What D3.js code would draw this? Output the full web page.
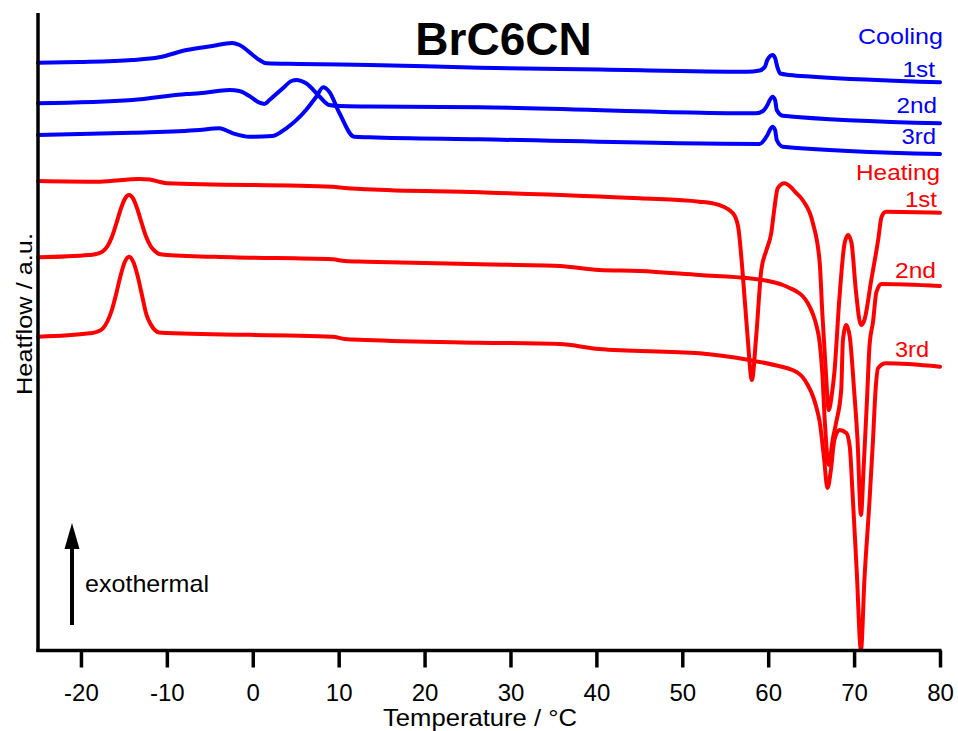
<!DOCTYPE html>
<html><head><meta charset="utf-8">
<script src="https://cdn.jsdelivr.net/npm/d3@7"></script>
<style>body{margin:0;background:#fff}svg{display:block}text{font-family:"Liberation Sans",Arial,sans-serif}</style>
</head><body><svg id="c" width="958" height="731"></svg>
<script>
// x ticks
const xTicks = [-20,-10,0,10,20,30,40,50,60,70,80];
// series: [temperature °C, heatflow a.u.]
const cooling1 = [[-25,587.3],[-20.2,588],[-14,590],[-10.9,592.7],[-7.7,600],[-4.7,604],[-2.4,607],[-1.55,605],[0,595],[0.78,590],[1.6,586.7],[5.4,586],[13.6,585],[26.4,582.3],[40.4,580.5],[57.5,578.3],[59,579.5],[59.6,583],[59.9,590],[60.5,595],[60.8,592],[61.1,582],[61.4,576.5],[62.5,575],[65.2,573.3],[80,567.7]];
const cooling2 = [[-25,546.7],[-14,550],[-7.7,556],[-6.2,556.7],[-2.7,560],[-1.55,559],[-0.4,554],[0.78,547.3],[1.36,546],[1.94,550],[3.5,561.7],[4.5,569],[5.1,570],[6.2,566.7],[7.8,553.3],[8.9,545],[10.1,544],[13.6,543.5],[26.4,542.7],[58.6,536.7],[59.4,539],[59.8,543.3],[60.5,553.3],[60.8,550],[61,540],[61.7,534.3],[80,526.7]];
const cooling3 = [[-25,515],[-14,517.3],[-6.2,520],[-3.9,521.7],[-2.3,516.7],[-0.4,513.3],[2.3,514],[3.9,521.7],[6.2,540],[7.4,553.3],[8.2,562.7],[8.9,558.3],[10.1,536.7],[11.8,513.3],[13.6,512.7],[26.4,510.7],[59,506],[59.8,513.3],[60.5,523.3],[60.8,520],[61,510],[61.7,503.3],[80,496]];
const heating1 = [[-25,469],[-17.8,468.3],[-13.2,471],[-12,470.5],[-10.9,468.3],[-10,466.7],[9.3,463.3],[10.7,462],[13.2,460.7],[26.4,457.7],[45,451.7],[52,448.3],[54.3,445],[55.9,436.7],[56.5,423.3],[57,380],[57.6,313.3],[58.1,270],[58.6,313.3],[59.2,380],[59.8,400],[60.35,416.7],[60.7,440],[61.1,461.7],[61.9,466.7],[63.3,456.7],[64,450],[65.2,427],[66,387],[66.3,337],[66.7,280],[67.05,240],[67.4,255],[67.7,277],[68.3,353],[68.9,407],[69.3,415],[69.7,407],[70.2,360],[70.8,325],[71.2,330],[72,370],[72.8,410],[73.2,433.3],[73.7,438.3],[80,437.3]];
const heating2 = [[-25,392.7],[-19,395],[-18.2,396],[-17.4,399],[-16.9,404],[-16.4,413],[-15.9,426],[-15.4,440],[-14.9,451],[-14.4,455],[-13.9,451],[-13.4,440],[-12.9,426],[-12.4,413],[-11.9,404],[-11.4,399],[-10.9,396],[-10,395],[-2.4,392.7],[9.3,390.7],[10.7,389],[13.2,388.3],[26.4,385.7],[35.7,384],[40.3,380],[45,379],[52,375],[57.8,371.7],[60,369],[61.7,365],[62.5,362],[63.3,358.5],[64,354],[64.6,347],[65.2,336],[65.6,325],[66,307],[66.3,277],[66.6,227],[67.05,185],[67.5,210],[67.9,227],[68.5,260],[68.7,310],[69.1,325],[69.5,313],[70,260],[70.4,210],[70.8,135],[71.1,180],[71.5,250],[71.8,305],[72.2,328],[72.6,358],[73.2,366],[80,364]];
const heating3 = [[-25,313.3],[-19,316.7],[-18.2,318],[-17.4,322],[-16.9,329],[-16.4,340],[-15.9,356],[-15.4,374],[-14.9,388],[-14.4,393.3],[-13.9,388],[-13.4,374],[-12.9,355],[-12.4,336],[-11.9,326],[-11.4,320],[-10.9,317.5],[-10,317],[9.3,313.3],[10.7,311],[13.2,310],[26.4,307.3],[35.7,306],[40.3,301],[52,296.7],[57.8,290],[61.7,283],[62.5,281],[63.3,278],[64,273],[64.6,265],[65.2,254],[65.6,243],[66,228],[66.5,192],[66.9,162],[67.3,180],[67.7,210],[68.3,220],[69.1,217],[69.5,203],[69.8,160],[70.3,80],[70.8,0],[71.2,70],[71.8,150],[72.2,210],[72.5,260],[72.8,282],[73.7,286.7],[80,283.3]];

const svg = d3.select("#c");
const x = d3.scaleLinear().domain([-25,80]).range([38,940]);
const y = d3.scaleLinear().domain([0,637]).range([650,13]);

const line = d3.line().x(d=>x(d[0])).y(d=>y(d[1])).curve(d3.curveMonotoneX);
const series = [
  {d:cooling1,c:"#0000ff"},{d:cooling2,c:"#0000ff"},{d:cooling3,c:"#0000ff"},
  {d:heating1,c:"#ff0000"},{d:heating2,c:"#ff0000"},{d:heating3,c:"#ff0000"}];
svg.append("g").selectAll("path").data(series).join("path")
  .attr("d",s=>line(s.d)).attr("fill","none").attr("stroke",s=>s.c)
  .attr("stroke-width",4).attr("stroke-linejoin","round").attr("stroke-linecap","round");

// axes
const xa = svg.append("g").attr("transform","translate(0,650.5)")
  .call(d3.axisBottom(x).tickValues(xTicks).tickSize(17).tickSizeOuter(0).tickPadding(16).tickFormat(d3.format("d")));
xa.select(".domain").attr("stroke","#000").attr("stroke-width",3.5).attr("d","M36.5,0H941.5");
xa.selectAll(".tick line").attr("stroke","#000").attr("stroke-width",3.5);
xa.selectAll(".tick text").attr("font-size",24).attr("font-family","Liberation Sans, Arial, sans-serif").attr("fill","#000");
xa.selectAll(".tick text").text(d=>d<0?"-"+Math.abs(d):d);
svg.append("line").attr("x1",38).attr("x2",38).attr("y1",13).attr("y2",652).attr("stroke","#000").attr("stroke-width",3.5);

// texts
function t(str,xp,yp,size,color,anchor,len,weight){
  const e=svg.append("text").attr("x",xp).attr("y",yp).attr("font-size",size).attr("fill",color)
   .attr("text-anchor",anchor).text(str);
  if(len){e.attr("textLength",len).attr("lengthAdjust","spacingAndGlyphs");}
  if(weight)e.attr("font-weight",weight);
  return e;
}
t("BrC6CN",503.5,55,46,"#000","middle",null,"bold");
t("Cooling",943,44,22,"#0000ff","end",85);
t("1st",935,77.3,22,"#0000ff","end",32.5);
t("2nd",937,112.7,22,"#0000ff","end",40.5);
t("3rd",936,144.3,22,"#0000ff","end",34.5);
t("Heating",940,180,22,"#ff0000","end",84);
t("1st",937,206.7,22,"#ff0000","end",32);
t("2nd",936,278.3,22,"#ff0000","end",41);
t("3rd",929,356.7,22,"#ff0000","end",34);
t("exothermal",85,592,24,"#000","start",124);
t("Temperature / °C",480,726,24,"#000","middle",194);
t("Heatflow / a.u.",0,0,22,"#000","middle",162).attr("transform","translate(32,314) rotate(-90)");

// arrow
svg.append("line").attr("x1",72).attr("x2",72).attr("y1",625).attr("y2",545).attr("stroke","#000").attr("stroke-width",4);
svg.append("path").attr("d","M72,523 L79.5,549 L64.5,549 Z").attr("fill","#000");
</script></body></html>
